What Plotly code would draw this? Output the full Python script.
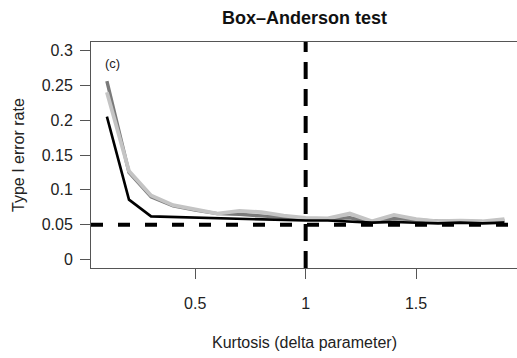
import plotly.graph_objects as go

# Kurtosis (delta parameter) grid
delta = [0.1, 0.2, 0.3, 0.4, 0.5, 0.6, 0.7, 0.8, 0.9, 1.0,
         1.1, 1.2, 1.3, 1.4, 1.5, 1.6, 1.7, 1.8, 1.9]

# Type I error rate of the Box-Anderson test for three settings
rate_black = [0.205, 0.086, 0.062, 0.061, 0.060, 0.059, 0.058, 0.058, 0.057, 0.056,
              0.056, 0.055, 0.053, 0.054, 0.053, 0.052, 0.053, 0.052, 0.053]
rate_dark = [0.256, 0.125, 0.090, 0.077, 0.071, 0.066, 0.065, 0.063, 0.060, 0.058,
             0.058, 0.060, 0.054, 0.059, 0.057, 0.055, 0.055, 0.054, 0.056]
rate_light = [0.240, 0.127, 0.092, 0.078, 0.072, 0.066, 0.070, 0.068, 0.063, 0.060,
              0.059, 0.066, 0.055, 0.064, 0.058, 0.055, 0.056, 0.055, 0.058]

nominal_alpha = 0.05   # nominal significance level
normal_delta = 1.0     # delta of the normal distribution

y_ticks = [0, 0.05, 0.1, 0.15, 0.2, 0.25, 0.3]
y_tick_labels = ["0", "0.05", "0.1", "0.15", "0.2", "0.25", "0.3"]
x_ticks = [0.5, 1, 1.5]
x_tick_labels = ["0.5", "1", "1.5"]

FONT = "Liberation Sans, Arial, sans-serif"
AXIS_COLOR = "#555555"

fig = go.Figure()
for ys, col, w in [(rate_dark, "#7a7a7a", 3.4),
                   (rate_light, "#c4c4c4", 3.8),
                   (rate_black, "#000000", 2.6)]:
    fig.add_trace(go.Scatter(x=delta, y=ys, mode="lines",
                             line=dict(color=col, width=w),
                             showlegend=False, hoverinfo="skip"))

# reference lines: nominal level and normal kurtosis
fig.add_shape(type="line", xref="paper", yref="y", x0=0, x1=1,
              y0=nominal_alpha, y1=nominal_alpha,
              line=dict(color="black", width=4, dash="12px,15px"))
fig.add_shape(type="line", xref="x", yref="paper", x0=normal_delta, x1=normal_delta,
              y0=0, y1=1,
              line=dict(color="black", width=4, dash="17px,10px"))

fig.add_annotation(text="(c)", xref="paper", yref="paper", x=0.05, y=0.903,
                   xanchor="center", yanchor="middle", showarrow=False,
                   font=dict(family=FONT, size=13, color="#222"))
fig.add_annotation(text="Box\u2013Anderson test", xref="paper", yref="paper",
                   x=0.5, y=1.0, yshift=24, xanchor="center", yanchor="middle",
                   showarrow=False,
                   font=dict(family=FONT, size=18, color="#111", weight="bold"))
fig.add_annotation(text="Kurtosis (delta parameter)", xref="paper", yref="paper",
                   x=0.5, y=0, yshift=-74, xanchor="center", yanchor="middle",
                   showarrow=False, font=dict(family=FONT, size=16, color="#222"))
fig.add_annotation(text="Type I error rate", xref="paper", yref="paper",
                   x=0, y=0.5, xshift=-73, xanchor="center", yanchor="middle",
                   textangle=-90, showarrow=False,
                   font=dict(family=FONT, size=16, color="#222"))

fig.update_layout(
    width=517, height=358,
    margin=dict(l=91, r=0, t=42, b=90),
    plot_bgcolor="white", paper_bgcolor="white",
    font=dict(family=FONT, size=16, color="#222"),
    xaxis=dict(range=[0.028, 1.957], tickvals=x_ticks, ticktext=x_tick_labels,
               showgrid=False, zeroline=False, showline=True, mirror=True,
               linecolor=AXIS_COLOR, linewidth=1, ticks="outside", ticklen=10,
               tickcolor=AXIS_COLOR, ticklabelstandoff=11),
    yaxis=dict(range=[-0.012, 0.312], tickvals=y_ticks, ticktext=y_tick_labels,
               showgrid=False, zeroline=False, showline=True,
               linecolor=AXIS_COLOR, linewidth=1, ticks="outside", ticklen=10,
               tickcolor=AXIS_COLOR, ticklabelstandoff=4),
)

fig.write_html("out.html")
